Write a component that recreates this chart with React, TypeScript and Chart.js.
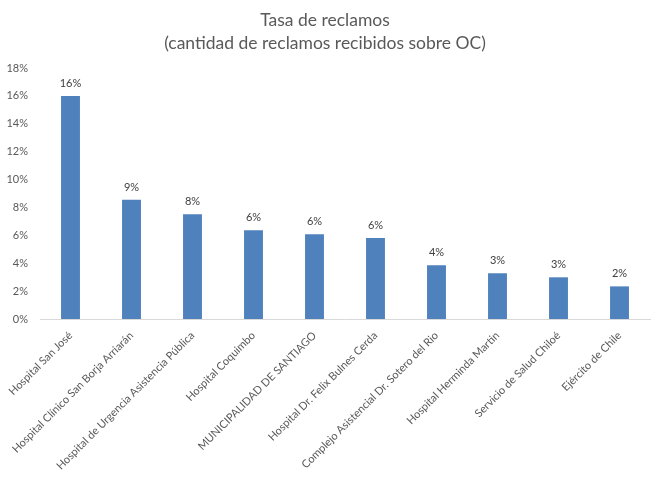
import { useEffect, useRef } from "react"
import { Chart, type ChartConfiguration, type Plugin, registerables } from "chart.js"

Chart.register(...registerables)

const categories = [
  "Hospital San José",
  "Hospital Clínico San Borja Arriarán",
  "Hospital de Urgencia Asistencia Pública",
  "Hospital Coquimbo",
  "MUNICIPALIDAD DE SANTIAGO",
  "Hospital Dr. Felix Bulnes Cerda",
  "Complejo Asistencial Dr. Sotero del Rio",
  "Hospital Herminda Martin",
  "Servicio de Salud Chiloé",
  "Ejército de Chile",
]

const tasa = [0.16, 0.0855, 0.0752, 0.0636, 0.0607, 0.058, 0.0385, 0.0328, 0.0299, 0.0234]

const titleLines = ["Tasa de reclamos", "(cantidad de reclamos recibidos sobre OC)"]

const FONT = "Lato, 'Open Sans', sans-serif"

// draws the rounded percentage above each bar
const valueLabels: Plugin<"bar"> = {
  id: "valueLabels",
  afterDatasetsDraw(chart) {
    const { ctx } = chart
    const meta = chart.getDatasetMeta(0)
    ctx.save()
    ctx.font = `11px ${FONT}`
    ctx.fillStyle = "#404040"
    ctx.textAlign = "center"
    ctx.textBaseline = "bottom"
    meta.data.forEach((bar, i) => {
      const v = tasa[i]
      ctx.fillText(Math.round(v * 100) + "%", bar.x, bar.y - 7)
    })
    ctx.restore()
  },
}

export default function App() {
  const chartRef = useRef<HTMLCanvasElement>(null)
  const chartInstance = useRef<Chart | null>(null)

  useEffect(() => {
    document.body.style.margin = "0"
    if (!chartRef.current) return
    const ctx = chartRef.current.getContext("2d")
    if (!ctx) return

    if (chartInstance.current) {
      chartInstance.current.destroy()
    }

    const config: ChartConfiguration<"bar"> = {
      type: "bar",
      data: {
        labels: categories,
        datasets: [
          {
            label: "Tasa de reclamos",
            data: tasa,
            backgroundColor: "#4f81bd",
            categoryPercentage: 1,
            barPercentage: 0.31,
          },
        ],
      },
      options: {
        animation: false,
        responsive: true,
        maintainAspectRatio: false,
        layout: { padding: { left: 0, right: 5, top: 9, bottom: 0 } },
        plugins: {
          legend: { display: false },
          tooltip: { enabled: false },
          title: {
            display: true,
            text: titleLines,
            color: "#595959",
            font: { family: FONT, size: 17.5, weight: "normal", lineHeight: 23 / 17.5 },
            padding: { top: 0, bottom: 13 },
          },
        },
        scales: {
          x: {
            grid: { display: false },
            border: { display: true, color: "#d9d9d9" },
            ticks: {
              color: "#595959",
              font: { family: FONT, size: 11 },
              maxRotation: 45,
              minRotation: 45,
              autoSkip: false,
              padding: 2,
            },
            afterFit: (scale) => {
              scale.height = 159
              scale.paddingLeft = 0
              scale.paddingRight = 0
            },
          },
          y: {
            min: 0,
            max: 0.18,
            grid: { display: false },
            border: { display: false },
            ticks: {
              stepSize: 0.02,
              color: "#595959",
              font: { family: FONT, size: 11 },
              padding: 4,
              callback: (v) => Math.round(Number(v) * 100) + "%",
            },
            afterFit: (scale) => {
              scale.width = 40
            },
          },
        },
      },
      plugins: [valueLabels],
    }

    chartInstance.current = new Chart(ctx, config)

    return () => {
      if (chartInstance.current) {
        chartInstance.current.destroy()
      }
    }
  }, [])

  return (
    <div style={{ width: 655, height: 478, position: "relative" }}>
      <canvas ref={chartRef} />
    </div>
  )
}
